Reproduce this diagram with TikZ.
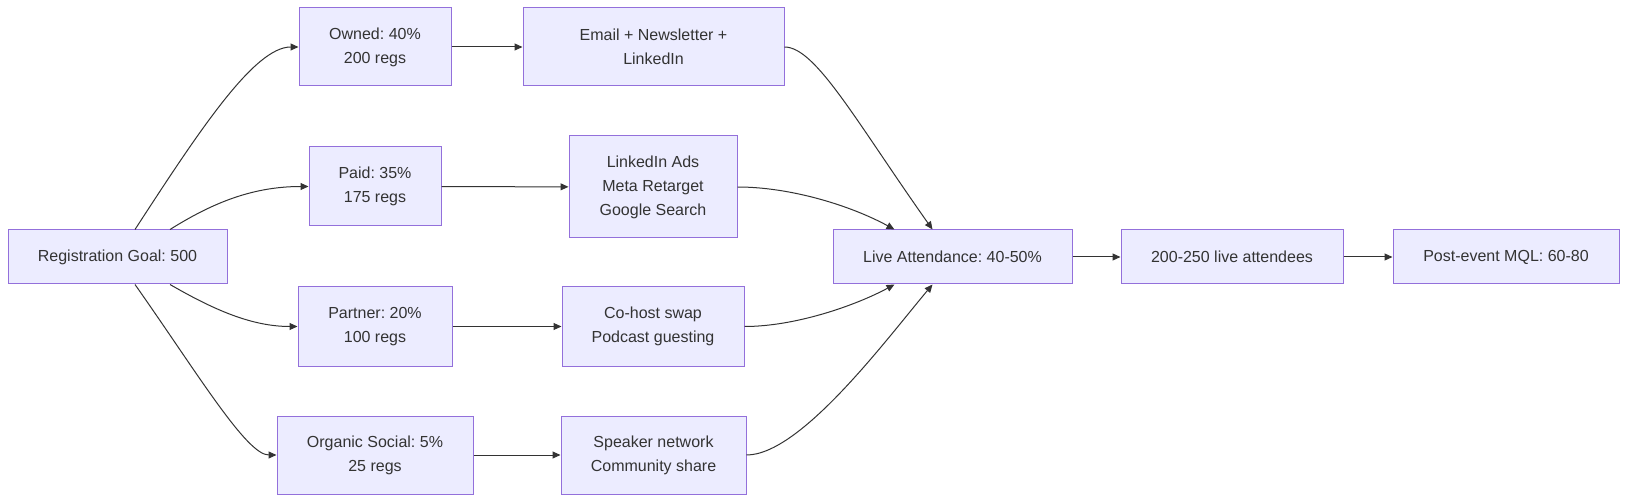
\documentclass[tikz,border=0pt]{standalone}
\usepackage{fontspec}
\setmainfont{Liberation Sans}
\frenchspacing
\usetikzlibrary{arrows.meta}
\definecolor{boxfill}{HTML}{ECECFF}
\definecolor{boxline}{HTML}{9370DB}
\definecolor{edge}{HTML}{333333}
\definecolor{txt}{HTML}{333333}
\tikzset{
  box/.style={draw=boxline, fill=boxfill, line width=1pt, inner sep=0pt, font=\fontsize{16}{24}\selectfont, text=txt, align=center},
  link/.style={draw=edge, line width=1pt, -{Triangle[length=8pt,width=7pt]}},
}
\newcommand{\boxat}[6]{% name, x1, y1, x2, y2, text
  \node[box, minimum width={#4-#2}, minimum height={#5-#3}] (#1) at ({(#2+#4)/2},{(#3+#5)/2}) {#6};}
\begin{document}
\begin{tikzpicture}[x=1pt,y=-1pt]
\useasboundingbox (0,0) rectangle (1627,502);
\boxat{reg}{8}{230}{227}{284}{Registration Goal: 500}
\boxat{own}{299}{8}{451}{86}{Owned: 40\%\\200 regs}
\boxat{email}{523}{8}{784}{86}{Email + Newsletter +\\LinkedIn}
\boxat{paid}{309}{147}{441}{226}{Paid: 35\%\\175 regs}
\boxat{ads}{569}{136}{737}{238}{LinkedIn Ads\\Meta Retarget\\Google Search}
\boxat{part}{298}{287}{452}{366}{Partner: 20\%\\100 regs}
\boxat{cohost}{562}{287}{744}{366}{Co-host swap\\Podcast guesting}
\boxat{org}{277}{416}{473}{494}{Organic Social: 5\%\\25 regs}
\boxat{spk}{561}{416}{746}{494}{Speaker network\\Community share}
\boxat{live}{833}{230}{1072}{284}{Live Attendance: 40-50\%}
\boxat{att}{1121}{230}{1343}{284}{200-250 live attendees}
\boxat{mql}{1393}{230}{1619}{284}{Post-event MQL: 60-80}

\draw[link] ([xshift=17.5pt]reg.north) .. controls +(65,-100) and +(-44,0) .. (own.west);
\draw[link] ([xshift=52.5pt]reg.north) .. controls +(40,-25) and +(-58,0) .. (paid.west);
\draw[link] ([xshift=52.5pt]reg.south) .. controls +(40,23) and +(-48,0) .. (part.west);
\draw[link] ([xshift=17.5pt]reg.south) .. controls +(62,88) and +(-30,0) .. (org.west);

\draw[link] (own) -- (email);
\draw[link] (paid) -- (ads);
\draw[link] (part) -- (cohost);
\draw[link] (org) -- (spk);

\draw[link] (email.east) .. controls +(31,0) and +(-77,-109) .. ([xshift=-20pt]live.north);
\draw[link] (ads.east) .. controls +(53,0) and +(-44,-24) .. ([xshift=-58pt]live.north);
\draw[link] (cohost.east) .. controls +(51,0) and +(-39,21) .. ([xshift=-58pt]live.south);
\draw[link] (spk.east) .. controls +(54,0) and +(-47,56) .. ([xshift=-20pt]live.south);

\draw[link] (live) -- (att);
\draw[link] (att) -- (mql);
\end{tikzpicture}
\end{document}
